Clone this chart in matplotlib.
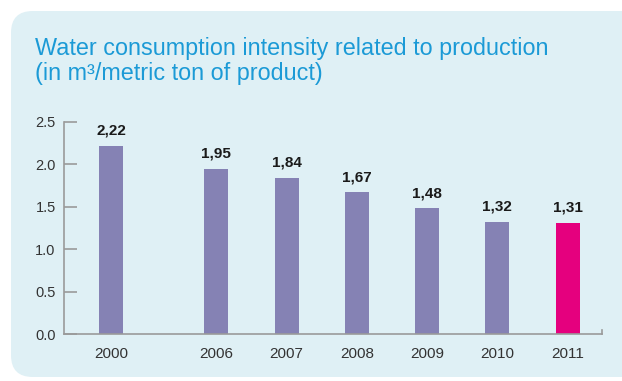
import matplotlib.pyplot as plt
from matplotlib.patches import FancyBboxPatch

years = ['2000', '2006', '2007', '2008', '2009', '2010', '2011']
positions = [0, 1.5, 2.5, 3.5, 4.5, 5.5, 6.5]
values = [2.22, 1.95, 1.84, 1.67, 1.48, 1.32, 1.31]
labels = ['2,22', '1,95', '1,84', '1,67', '1,48', '1,32', '1,31']

purple = '#8582b4'
magenta = '#e5007e'
colors = [purple] * 6 + [magenta]

plt.rcParams['font.family'] = ['Liberation Sans', 'DejaVu Sans']

W, H = 622, 381
fig = plt.figure(figsize=(W / 100, H / 100), dpi=100)
fig.patch.set_facecolor('white')

# light blue rounded panel, kept behind the axes
panel = FancyBboxPatch((11 / W, 4 / H), 640 / W, (H - 15) / H,
                       boxstyle='round,pad=0,rounding_size=0.035',
                       transform=fig.transFigure, facecolor='#dff0f5',
                       edgecolor='none', mutation_aspect=W / H, zorder=-5)
fig.patches.append(panel)

fig.text(35 / W, 1 - 55 / H, 'Water consumption intensity related to production',
         color='#1b9ad6', fontsize=16.8, va='baseline')
fig.text(35 / W, 1 - 80 / H, '(in m\u00b3/metric ton of product)',
         color='#1b9ad6', fontsize=16.8, va='baseline')

ax = fig.add_axes([64 / W, (H - 334) / H, (602 - 64) / W, (334 - 122) / H])
ax.patch.set_alpha(0)

bars = ax.bar(positions, values, width=0.34, color=colors, zorder=2)
for b, lab in zip(bars, labels):
    ax.annotate(lab, (b.get_x() + b.get_width() / 2, b.get_height()),
                xytext=(0, 6), textcoords='offset points', ha='center',
                va='bottom', fontsize=11, fontweight='bold', color='#1a1a1a')

ax.set_xlim(-0.67, 6.99)
ax.set_ylim(0, 2.5)
ax.set_yticks([0, 0.5, 1.0, 1.5, 2.0, 2.5])
ax.set_yticklabels(['0.0', '0.5', '1.0', '1.5', '2.0', '2.5'])
ax.set_xticks(positions)
ax.set_xticklabels(years)

for s in ['top', 'right']:
    ax.spines[s].set_visible(False)
for s in ['left', 'bottom']:
    ax.spines[s].set_color('#9a9a9a')
    ax.spines[s].set_linewidth(1.2)

ax.tick_params(axis='y', direction='in', length=9.5, width=1.2, color='#9a9a9a',
               labelsize=10.5, labelcolor='#333333', pad=6)
ax.tick_params(axis='x', length=0, labelsize=11, labelcolor='#333333', pad=9)

# small end mark at the right of the x axis
ax.plot([1, 1], [0, 0.02], transform=ax.transAxes, color='#9a9a9a',
        lw=1.2, clip_on=False)

fig.savefig('out.png', dpi=100)
